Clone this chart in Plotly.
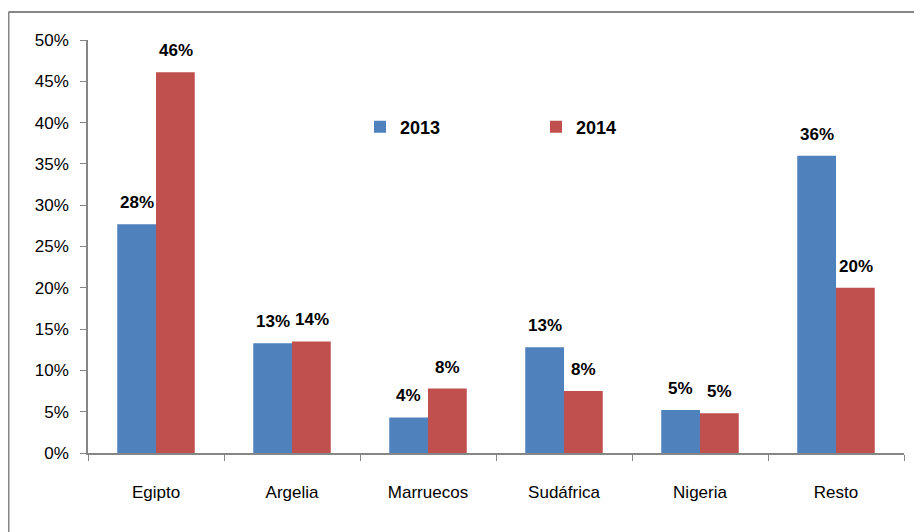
import plotly.graph_objects as go

categories = ["Egipto", "Argelia", "Marruecos", "Sudáfrica", "Nigeria", "Resto"]
values_2013 = [0.277, 0.133, 0.043, 0.128, 0.052, 0.360]
values_2014 = [0.461, 0.135, 0.078, 0.075, 0.048, 0.200]
labels_2013 = ["28%", "13%", "4%", "13%", "5%", "36%"]
labels_2014 = ["46%", "14%", "8%", "8%", "5%", "20%"]
series_names = ["2013", "2014"]

BLUE = "#4F81BD"
RED = "#C0504D"
GRAY = "#868686"
FONT = "Liberation Sans, Arial, sans-serif"

fig = go.Figure()
fig.add_trace(go.Bar(name=series_names[0], x=categories, y=values_2013,
                     marker=dict(color=BLUE, line=dict(width=0))))
fig.add_trace(go.Bar(name=series_names[1], x=categories, y=values_2014,
                     marker=dict(color=RED, line=dict(width=0))))

annotations = []
for vals, labs, shift in [(values_2013, labels_2013, -19.5), (values_2014, labels_2014, 19.5)]:
    for c, v, t in zip(categories, vals, labs):
        annotations.append(dict(x=c, y=v, text=t, showarrow=False, xref="x", yref="y",
                                xanchor="center", yanchor="bottom", xshift=shift, yshift=10,
                                font=dict(family=FONT, size=17, color="#000000", weight="bold")))

# The page body has an 8px margin, so div coordinates are page coordinates minus 8.
W, H = 922, 532
L, R, T, B = 80, 26, 32, 87
pw, ph = W - L - R, H - T - B

def px_x(p):
    return (p - L) / pw

def px_y(p):
    return (H - B - p) / ph

shapes = [
    dict(type="line", xref="paper", yref="paper", x0=px_x(0.5), x1=px_x(0.5),
         y0=px_y(4), y1=px_y(560), line=dict(color=GRAY, width=2)),
    dict(type="line", xref="paper", yref="paper", x0=px_x(0.5), x1=px_x(960),
         y0=px_y(4), y1=px_y(4), line=dict(color=GRAY, width=2)),
]

fig.update_layout(
    width=W, height=H,
    margin=dict(l=L, r=R, t=T, b=B, pad=0),
    paper_bgcolor="white", plot_bgcolor="white",
    barmode="group", bargap=0.43, bargroupgap=0,
    font=dict(family=FONT, size=17, color="#000000"),
    showlegend=True,
    legend=dict(orientation="h", x=px_x(352), y=px_y(119), xanchor="left", yanchor="middle",
                font=dict(family=FONT, size=18, color="#000000", weight="bold"),
                entrywidth=131, entrywidthmode="pixels", bgcolor="rgba(0,0,0,0)"),
    annotations=annotations,
    shapes=shapes,
)
fig.update_xaxes(showline=True, linecolor=GRAY, linewidth=1.5, ticks="outside", ticklen=6,
                 tickcolor=GRAY, tickson="boundaries", showgrid=False,
                 tickfont=dict(family=FONT, size=17, color="#000000"), ticklabelstandoff=23)
fig.update_yaxes(range=[0, 0.5], dtick=0.05, tickformat=".0%", showline=True, linecolor=GRAY,
                 linewidth=1.5, ticks="outside", ticklen=6, tickcolor=GRAY, showgrid=False,
                 zeroline=False, tickfont=dict(family=FONT, size=17, color="#000000"),
                 ticklabelstandoff=8)

fig.write_html("out.html")
